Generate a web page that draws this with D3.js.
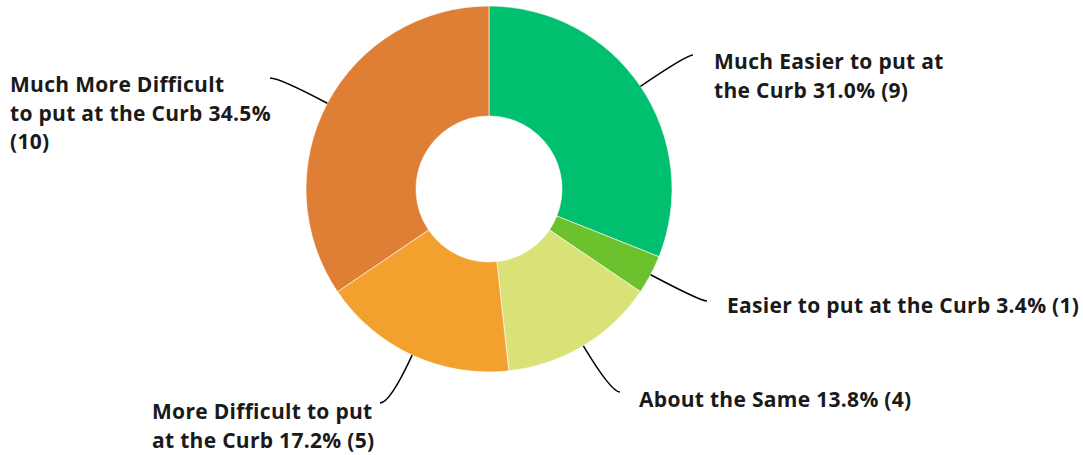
<!DOCTYPE html>
<html>
<head>
<meta charset="utf-8">
<script src="https://cdn.jsdelivr.net/npm/d3@7"></script>
<style>
  body { margin: 0; background: #fff; }
  text { font-family: "Open Sans", sans-serif; font-weight: 700; font-size: 21px; letter-spacing: 0.3px; fill: #1a1a1a; }
</style>
</head>
<body>
<div id="chart_div"></div>
<script>
var categories = ["Much Easier to put at the Curb", "Easier to put at the Curb", "About the Same",
                  "More Difficult to put at the Curb", "Much More Difficult to put at the Curb"];
var counts = [9, 1, 4, 5, 10];
var percents = ["31.0%", "3.4%", "13.8%", "17.2%", "34.5%"];
var colors = ["#00bf6f", "#6bc22c", "#d9e276", "#f2a02e", "#df7f35"];

// label lines as they wrap in the picture
var label_lines = [
    ["Much Easier to put at", "the Curb 31.0% (9)"],
    ["Easier to put at the Curb 3.4% (1)"],
    ["About the Same 13.8% (4)"],
    ["More Difficult to put", "at the Curb 17.2% (5)"],
    ["Much More Difficult", "to put at the Curb 34.5%", "(10)"]
];

// layout: label origin (first baseline) and where the leader line ends
var label_xy = [[714, 69], [727, 313], [639, 407], [152, 419], [10, 92]];
var leader_end = [[693, 55], [707, 301], [620, 392], [380, 403], [270, 78]];

var chart_width = 1083;
var chart_height = 455;
var cx = 489, cy = 189;
var outer_r = 183, inner_r = 73;
var line_h = 28.5;

var chart = d3.select("#chart_div").append("svg")
    .attr("width", chart_width)
    .attr("height", chart_height);

var pie = d3.pie().sort(null).value(function(d) { return d; });
var arcs = pie(counts);
var arc = d3.arc().innerRadius(inner_r).outerRadius(outer_r);

var g = chart.append("g").attr("transform", "translate(" + cx + "," + cy + ")");

g.selectAll("path.slice")
    .data(arcs)
    .enter().append("path")
    .attr("class", "slice")
    .attr("d", arc)
    .attr("fill", function(d, i) { return colors[i]; })
    .attr("stroke", "#fff")
    .attr("stroke-width", 0.6);

// leader lines: start at outer edge, follow the radius, bend to horizontal
chart.selectAll("path.leader")
    .data(arcs)
    .enter().append("path")
    .attr("class", "leader")
    .attr("fill", "none")
    .attr("stroke", "#000")
    .attr("stroke-width", 1.5)
    .attr("d", function(d, i) {
        var a = (d.startAngle + d.endAngle) / 2;
        var dx = Math.sin(a), dy = -Math.cos(a);
        var sx = cx + outer_r * dx, sy = cy + outer_r * dy;
        var e = leader_end[i];
        var t = (e[1] - sy) / dy;
        var qx = sx + dx * t, qy = e[1];
        var p = d3.path();
        p.moveTo(sx, sy);
        p.quadraticCurveTo(qx, qy, e[0], e[1]);
        return p.toString();
    });

var labels = chart.selectAll("text.label")
    .data(arcs)
    .enter().append("text")
    .attr("class", "label")
    .attr("x", function(d, i) { return label_xy[i][0]; })
    .attr("y", function(d, i) { return label_xy[i][1]; });

labels.selectAll("tspan")
    .data(function(d, i) { return label_lines[i].map(function(s) { return { s: s, x: label_xy[i][0] }; }); })
    .enter().append("tspan")
    .attr("x", function(d) { return d.x; })
    .attr("dy", function(d, j) { return j === 0 ? 0 : line_h; })
    .text(function(d) { return d.s; });
</script>
</body>
</html>
